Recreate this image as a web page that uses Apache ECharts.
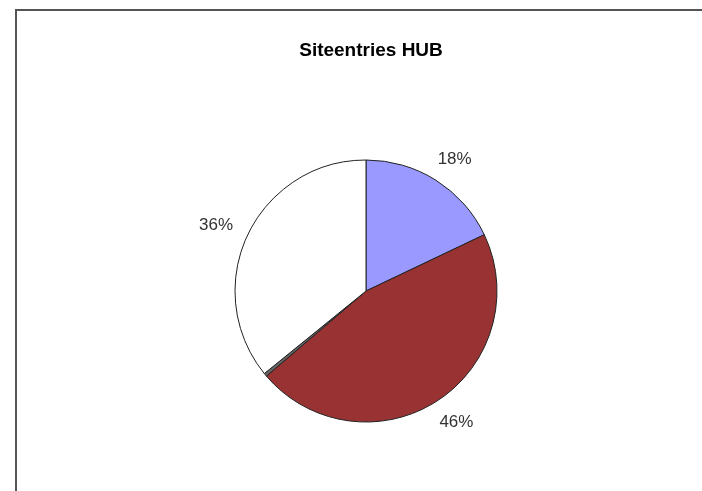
<!DOCTYPE html>
<html>
<head>
<meta charset="utf-8">
<title>Siteentries HUB</title>
<script src="https://cdn.jsdelivr.net/npm/echarts@6/dist/echarts.min.js"></script>
<style>
  html, body { margin: 0; padding: 0; background: #fff; }
  #main { width: 702px; height: 491px; }
</style>
</head>
<body>
<div id="main"></div>
<script>
// data
var names = ['Serie 1', 'Serie 2', 'Serie 3', 'Serie 4'];
var values = [18, 46, 0.4, 36];
var colors = ['#9999FF', '#993333', '#666666', '#FFFFFF'];
var showLabel = [true, true, false, true];

var cx = 366, cy = 291, r = 131;

// mid angle of each slice, clockwise from 12 o'clock
var total = values.reduce(function (a, b) { return a + b; }, 0);
var midAngle = [];
var acc = 0;
values.forEach(function (v) {
  midAngle.push((acc + v / 2) / total * Math.PI * 2);
  acc += v;
});

var chart = echarts.init(document.getElementById('main'), null, { renderer: 'canvas' });

var data = values.map(function (v, i) {
  return {
    name: names[i],
    value: v,
    itemStyle: { color: colors[i] },
    label: { show: showLabel[i] }
  };
});

var option = {
  backgroundColor: '#fff',
  animation: false,
  title: {
    text: 'Siteentries HUB',
    left: cx,
    textAlign: 'center',
    top: 36,
    textStyle: {
      fontFamily: 'Liberation Sans, Arial, sans-serif',
      fontSize: 19,
      fontWeight: 'bold',
      color: '#000'
    }
  },
  graphic: [{
    type: 'rect',
    silent: true,
    shape: { x: 16, y: 10, width: 760, height: 560 },
    style: { fill: 'none', stroke: '#555', lineWidth: 2 }
  }],
  series: [{
    type: 'pie',
    center: [cx, cy],
    radius: r,
    startAngle: 90,
    clockwise: true,
    silent: true,
    data: data,
    itemStyle: { borderColor: '#222', borderWidth: 1 },
    label: {
      position: 'outside',
      formatter: function (p) { return Math.round(p.percent) + '%'; },
      fontFamily: 'Liberation Sans, Arial, sans-serif',
      fontSize: 17,
      color: '#333'
    },
    labelLine: { show: false },
    // put each label just off the rim, like the spreadsheet did
    labelLayout: function (p) {
      var a = midAngle[p.dataIndex];
      var s = Math.sin(a), c = Math.cos(a);
      var hw = p.labelRect.width / 2, hh = p.labelRect.height / 2;
      var g = r + 18;
      return {
        x: cx + s * g + s * hw,
        y: cy - c * g - c * Math.abs(c) * hh,
        align: 'center',
        verticalAlign: 'middle'
      };
    }
  }]
};

chart.setOption(option);
</script>
</body>
</html>
